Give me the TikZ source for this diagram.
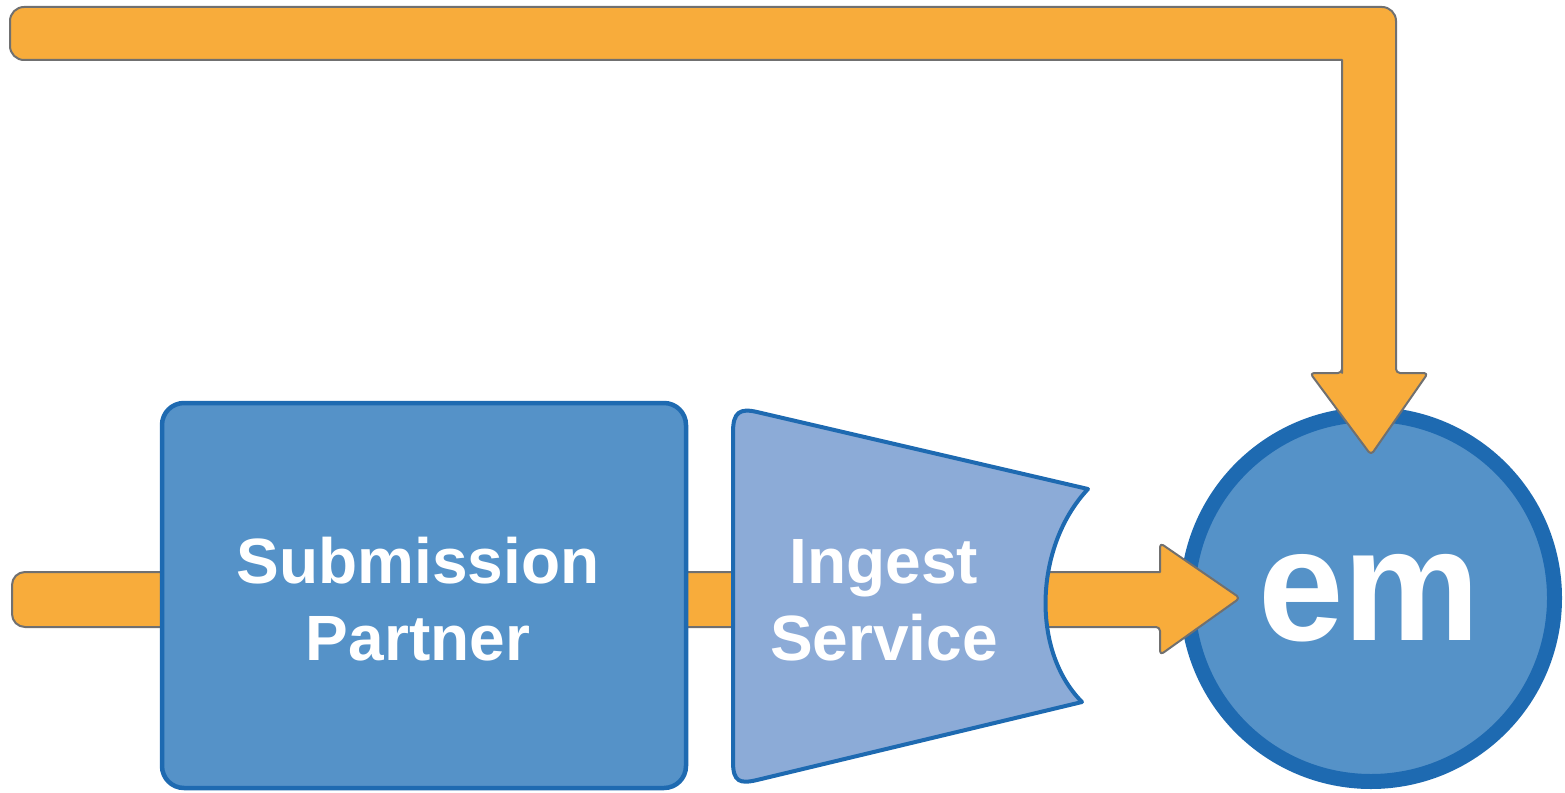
\documentclass[tikz,border=0pt]{standalone}
\usepackage{fontspec}
\setsansfont{Liberation Sans}
\definecolor{arrowfill}{HTML}{F8AC3B}
\definecolor{arrowline}{HTML}{707070}
\definecolor{boxfill}{HTML}{5592C8}
\definecolor{boxline}{HTML}{1E6AB1}
\definecolor{ingestfill}{HTML}{8CABD7}
\tikzset{
  blockarrow/.style={fill=arrowfill, draw=arrowline, line width=2pt, line join=round},
  partnerbox/.style={rectangle, rounded corners=22pt, fill=boxfill, draw=boxline, line width=4.5pt},
  ingestshape/.style={fill=ingestfill, draw=boxline, line width=4pt, line join=round},
  emcircle/.style={circle, fill=boxfill, draw=boxline, line width=15pt, inner sep=0pt},
  label/.style={text=white, font=\sffamily\bfseries\fontsize{64}{77}\selectfont, align=center, anchor=base},
}
\begin{document}
\begin{tikzpicture}[x=1pt,y=-1pt]
\useasboundingbox (0,0) rectangle (1565,792);
% circle
\node[emcircle, minimum size=367pt] (em) at (1371,598) {};
% named points for the block arrows
\coordinate (topstart) at (10,33);
\coordinate (bottomstart) at (12,600);
\coordinate (toptip) at ([yshift=-48pt]em.north);
\coordinate (bottomtip) at ([xshift=60pt]em.west);
% top block arrow
\path[blockarrow] (1342,373) -- (1342,60) [rounded corners=14pt] -- (topstart |- 0,60) -- (topstart |- 0,7) -- (1396,7) [rounded corners=4pt] -- (1396,373) -- (1428,373) -- (toptip) -- (1310,373) -- (1342,373) [sharp corners] -- cycle;
% bottom block arrow
\path[blockarrow] (1160,572) [rounded corners=4pt] -- (1160,543) -- (bottomtip) -- (1160,655) -- (1160,627) [rounded corners=13pt] -- (bottomstart |- 0,627) -- (bottomstart |- 0,572) [sharp corners] -- (1160,572) -- cycle;
% submission partner box
\node[partnerbox, minimum width=524pt, minimum height=385pt] (sp) at (424,595.5) {};
\node[label] (sptext) at (418,660) {Submission\\Partner};
% ingest service shape
\draw[ingestshape] (733,432) .. controls (733,412) and (740,408) .. (757,412) -- (1088,489) .. controls (1035,545) and (1030,650) .. (1082,702) -- (757,780) .. controls (740,784) and (733,782) .. (733,762) -- cycle;
\node[label] (ingtext) at (884,660) {Ingest\\Service};
% em text
\node[text=white, font=\sffamily\bfseries\fontsize{160}{160}\selectfont, anchor=base, xscale=0.96, transform shape] (emtext) at (1369,640) {em};
\end{tikzpicture}
\end{document}
